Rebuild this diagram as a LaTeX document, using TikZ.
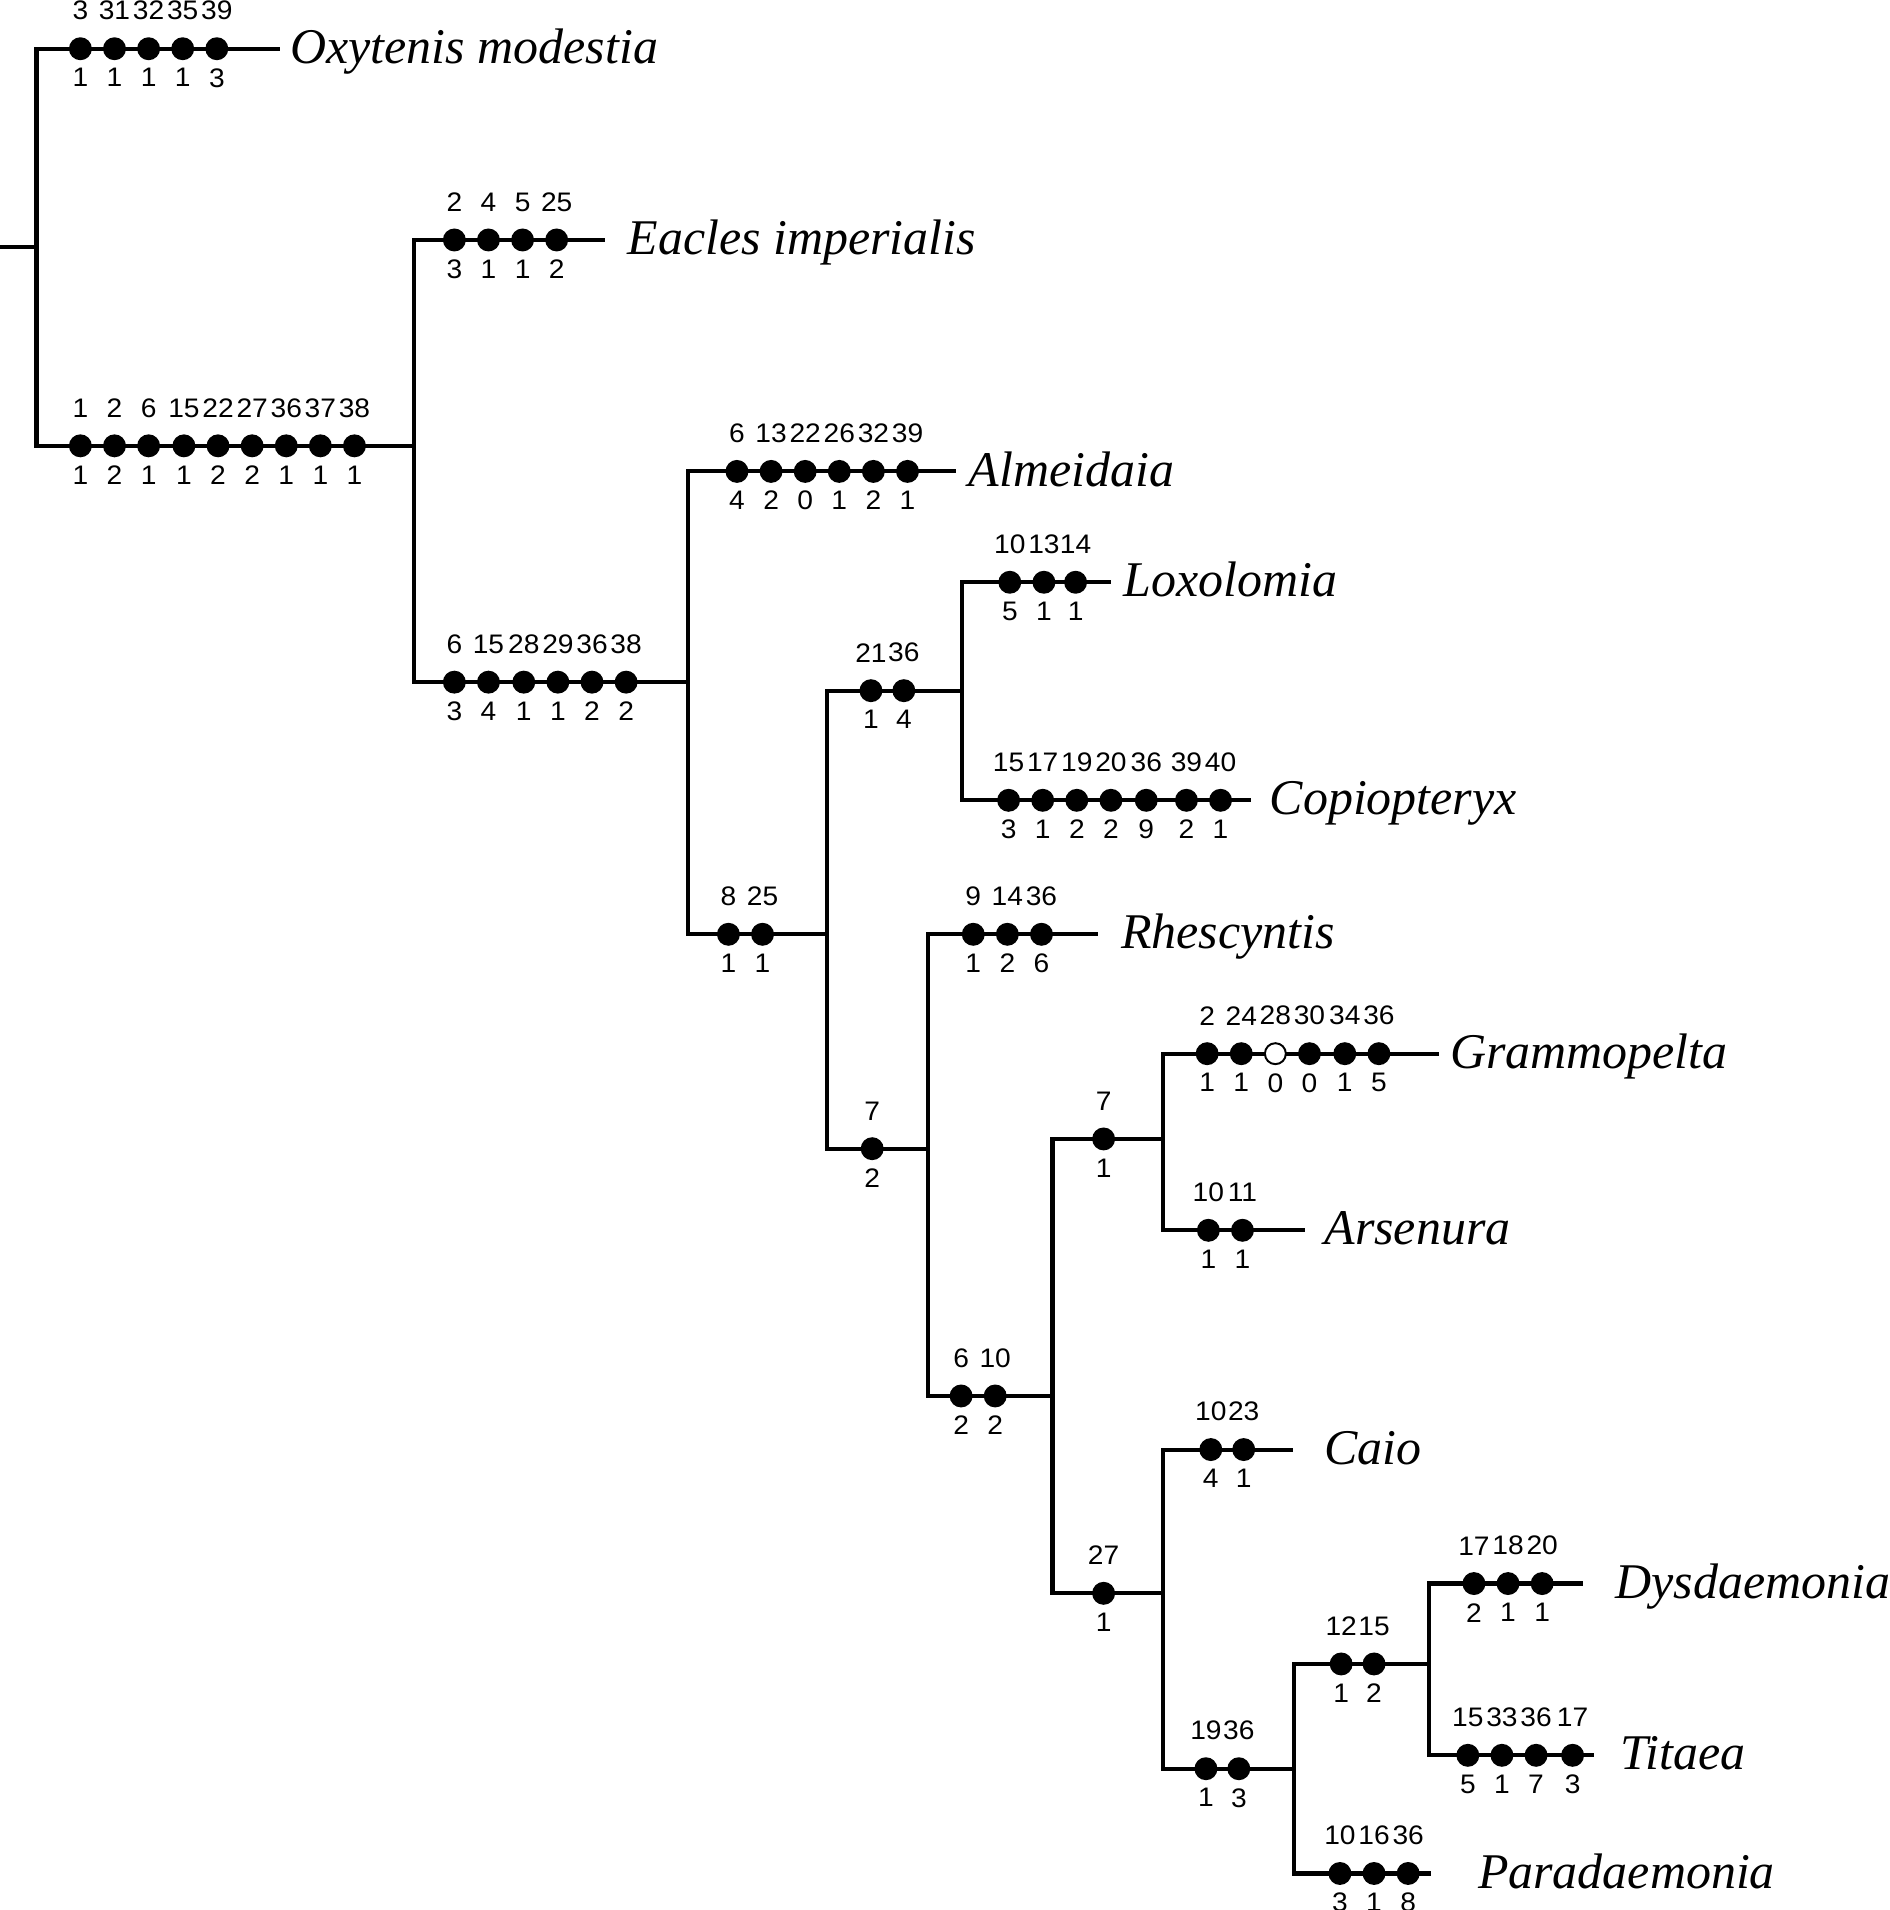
\documentclass[tikz,border=0pt]{standalone}
\usepackage{fontspec}
\setmainfont{Liberation Serif}
\newfontfamily\chrfont[FakeStretch=1.05]{Liberation Sans}
\usepackage{tikz}
\tikzset{
    branch/.style={line width=1.7pt, line cap=rect},
    dot/.style={circle, fill=black, draw=black, line width=0.8pt, inner sep=0pt, minimum size=8.6pt},
    chr/.style={font=\chrfont\fontsize{11pt}{12pt}\selectfont, inner sep=0pt},
    chg/.style 2 args={dot, label={[chr, yshift=6.8pt]above:#1}, label={[chr, yshift=-3.2pt]below:#2}},
    taxon/.style={font=\fontsize{20.5pt}{24pt}\selectfont\itshape, anchor=base west, inner sep=0pt}
}

\begin{document}
\begin{tikzpicture}[x=0.5pt, y=-0.5pt]
        \useasboundingbox (0,0) rectangle (1551,1568);

        % --- Clade nodes ---
        \coordinate (base) at (0,203);
        \coordinate (root) at (30,203);
        \coordinate (cA) at (340,366);
        \coordinate (cB) at (565,560);
        \coordinate (cC) at (679,767);
        \coordinate (cD) at (790,567);
        \coordinate (cE) at (762,943);
        \coordinate (cF) at (864,1146);
        \coordinate (cG) at (955,935);
        \coordinate (cH) at (955,1308);
        \coordinate (cI) at (1062,1452);
        \coordinate (cJ) at (1173,1366);

        % --- Tip ends ---
        \coordinate (oxyE) at (228,40);
        \coordinate (eacE) at (495,197);
        \coordinate (almE) at (783,387);
        \coordinate (loxE) at (910,478);
        \coordinate (copE) at (1025,657);
        \coordinate (rheE) at (900,767);
        \coordinate (graE) at (1180,865);
        \coordinate (arsE) at (1070,1010);
        \coordinate (caiE) at (1060,1190);
        \coordinate (dysE) at (1298,1300);
        \coordinate (titE) at (1307,1441);
        \coordinate (parE) at (1173,1538);

        % --- Tree ---
        \draw [branch] (base) -- (root);
        \draw [branch] (root) |- (oxyE);
        \draw [branch] (root) |- (cA);
        \draw [branch] (cA) |- (eacE);
        \draw [branch] (cA) |- (cB);
        \draw [branch] (cB) |- (almE);
        \draw [branch] (cB) |- (cC);
        \draw [branch] (cC) |- (cD);
        \draw [branch] (cC) |- (cE);
        \draw [branch] (cD) |- (loxE);
        \draw [branch] (cD) |- (copE);
        \draw [branch] (cE) |- (rheE);
        \draw [branch] (cE) |- (cF);
        \draw [branch] (cF) |- (cG);
        \draw [branch] (cF) |- (cH);
        \draw [branch] (cG) |- (graE);
        \draw [branch] (cG) |- (arsE);
        \draw [branch] (cH) |- (caiE);
        \draw [branch] (cH) |- (cI);
        \draw [branch] (cI) |- (cJ);
        \draw [branch] (cI) |- (parE);
        \draw [branch] (cJ) |- (dysE);
        \draw [branch] (cJ) |- (titE);

        % --- Taxa ---
        \node [taxon] (oxy) at (238,52) {Oxytenis modestia};
        \node [taxon] (eac) at (515,209) {Eacles imperialis};
        \node [taxon] (alm) at (795,399) {Almeidaia};
        \node [taxon] (lox) at (922,490) {Loxolomia};
        \node [taxon] (cop) at (1042,669) {Copiopteryx};
        \node [taxon] (rhe) at (920,779) {Rhescyntis};
        \node [taxon] (gra) at (1190,877) {Grammopelta};
        \node [taxon] (ars) at (1087,1022) {Arsenura};
        \node [taxon] (cai) at (1087,1202) {Caio};
        \node [taxon] (dys) at (1326,1312) {Dysdaemonia};
        \node [taxon] (tit) at (1330,1453) {Titaea};
        \node [taxon] (par) at (1213,1550) {Paradaemonia};

        % --- Character changes ---
        \foreach \x/\t/\b [count=\i] in {66/3/1,94/31/1,122/32/1,150/35/1,178/39/3}
            \node [chg={\t}{\b}] (oxy\i) at (\x,40) {};
        \foreach \x/\t/\b [count=\i] in {66/1/1,94/2/2,122/6/1,151/15/1,179/22/2,207/27/2,235/36/1,263/37/1,291/38/1}
            \node [chg={\t}{\b}] (a\i) at (\x,366) {};
        \foreach \x/\t/\b [count=\i] in {373/2/3,401/4/1,429/5/1,457/25/2}
            \node [chg={\t}{\b}] (eac\i) at (\x,197) {};
        \foreach \x/\t/\b [count=\i] in {373/6/3,401/15/4,430/28/1,458/29/1,486/36/2,514/38/2}
            \node [chg={\t}{\b}] (b\i) at (\x,560) {};
        \foreach \x/\t/\b [count=\i] in {605/6/4,633/13/2,661/22/0,689/26/1,717/32/2,745/39/1}
            \node [chg={\t}{\b}] (alm\i) at (\x,387) {};
        \foreach \x/\t/\b [count=\i] in {598/8/1,626/25/1}
            \node [chg={\t}{\b}] (c\i) at (\x,767) {};
        \foreach \x/\t/\b [count=\i] in {715/21/1,742/36/4}
            \node [chg={\t}{\b}] (d\i) at (\x,567) {};
        \foreach \x/\t/\b [count=\i] in {829/10/5,857/13/1,883/14/1}
            \node [chg={\t}{\b}] (lox\i) at (\x,478) {};
        \foreach \x/\t/\b [count=\i] in {828/15/3,856/17/1,884/19/2,912/20/2,941/36/9,974/39/2,1002/40/1}
            \node [chg={\t}{\b}] (cop\i) at (\x,657) {};
        \node [chg={7}{2}] (e1) at (716,943) {};
        \foreach \x/\t/\b [count=\i] in {799/9/1,827/14/2,855/36/6}
            \node [chg={\t}{\b}] (rhe\i) at (\x,767) {};
        \foreach \x/\t/\b [count=\i] in {789/6/2,817/10/2}
            \node [chg={\t}{\b}] (f\i) at (\x,1146) {};
        \node [chg={7}{1}] (g1) at (906,935) {};
        \foreach \x/\t/\b/\f [count=\i] in {991/2/1/black,1019/24/1/black,1047/28/0/white,1075/30/0/black,1104/34/1/black,1132/36/5/black}
            \node [chg={\t}{\b}, fill=\f] (gra\i) at (\x,865) {};
        \foreach \x/\t/\b [count=\i] in {992/10/1,1020/11/1}
            \node [chg={\t}{\b}] (ars\i) at (\x,1010) {};
        \node [chg={27}{1}] (h1) at (906,1308) {};
        \foreach \x/\t/\b [count=\i] in {994/10/4,1021/23/1}
            \node [chg={\t}{\b}] (cai\i) at (\x,1190) {};
        \foreach \x/\t/\b [count=\i] in {990/19/1,1017/36/3}
            \node [chg={\t}{\b}] (i\i) at (\x,1452) {};
        \foreach \x/\t/\b [count=\i] in {1101/12/1,1128/15/2}
            \node [chg={\t}{\b}] (j\i) at (\x,1366) {};
        \foreach \x/\t/\b [count=\i] in {1210/17/2,1238/18/1,1266/20/1}
            \node [chg={\t}{\b}] (dys\i) at (\x,1300) {};
        \foreach \x/\t/\b [count=\i] in {1205/15/5,1233/33/1,1261/36/7,1291/17/3}
            \node [chg={\t}{\b}] (tit\i) at (\x,1441) {};
        \foreach \x/\t/\b [count=\i] in {1100/10/3,1128/16/1,1156/36/8}
            \node [chg={\t}{\b}] (par\i) at (\x,1538) {};

    \end{tikzpicture}
\end{document}
